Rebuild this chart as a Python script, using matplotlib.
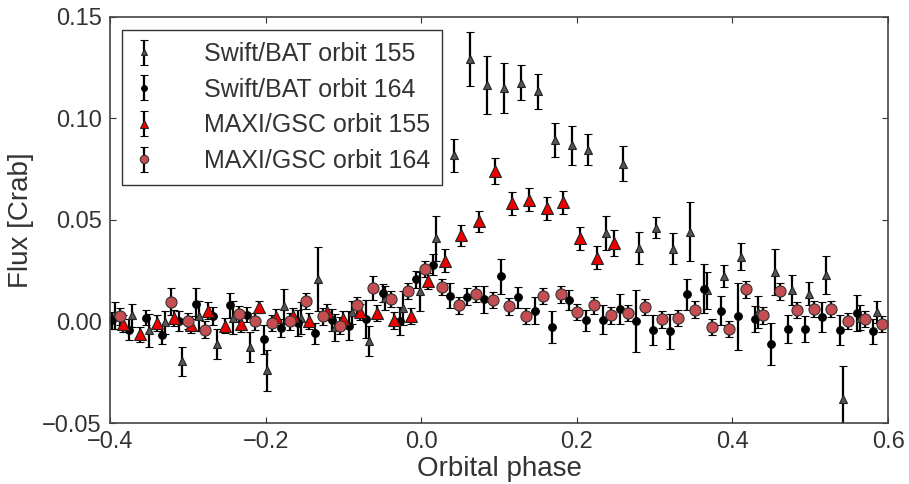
import matplotlib
matplotlib.use("Agg")
import matplotlib.pyplot as plt

plt.rcParams['font.family'] = ['Liberation Sans', 'DejaVu Sans']

# Swift/BAT orbit 155
bat155_phase = [-0.394, -0.372, -0.350, -0.329, -0.307, -0.285, -0.263, -0.2415, -0.220, -0.1982,
                -0.1763, -0.1545, -0.1326, -0.1108, -0.0894, -0.0676, -0.0462, -0.0239, -0.0019, 0.0194,
                0.0418, 0.0631, 0.0846, 0.1064, 0.1283, 0.1501, 0.172, 0.1934, 0.2148, 0.237,
                0.2589, 0.2802, 0.3022, 0.324, 0.3455, 0.3674, 0.3892, 0.411, 0.4324, 0.4548,
                0.4761, 0.498, 0.5199, 0.5416, 0.5635, 0.5853]
bat155_flux = [0.003, 0.003, -0.0044, -0.0003, -0.0195, 0.0028, -0.011, 0.0018, -0.0127, -0.0241,
               0.0074, 0.0016, 0.021, -0.0028, 0.0046, -0.0094, 0.0117, 0.0066, 0.0149, 0.041,
               0.0818, 0.1294, 0.1166, 0.115, 0.1177, 0.1133, 0.0892, 0.0867, 0.0846, 0.0437,
               0.0777, 0.0363, 0.0462, 0.0358, 0.0443, 0.0153, 0.0223, 0.032, 0.0046, 0.0243,
               0.0156, 0.0136, 0.023, -0.0381, 0.0018, 0.0046]
bat155_err = [0.0066, 0.0056, 0.0082, 0.0057, 0.0071, 0.0074, 0.0073, 0.0082, 0.0074, 0.0099,
              0.0086, 0.008, 0.0158, 0.0066, 0.0057, 0.0074, 0.006, 0.0082, 0.0097, 0.011,
              0.0082, 0.0134, 0.0144, 0.0123, 0.0085, 0.0085, 0.0084, 0.0096, 0.0076, 0.0083,
              0.0085, 0.008, 0.0053, 0.0076, 0.0147, 0.009, 0.0055, 0.0068, 0.008, 0.0112,
              0.0073, 0.0057, 0.0094, 0.0164, 0.0062, 0.0053]

# Swift/BAT orbit 164
bat164_phase = [-0.397, -0.376, -0.354, -0.333, -0.311, -0.289, -0.267, -0.2454, -0.2235, -0.202,
                -0.1802, -0.1584, -0.1365, -0.1152, -0.0933, -0.0715, -0.0491, -0.0277, -0.0063, 0.0155,
                0.0374, 0.0591, 0.081, 0.1026, 0.1244, 0.1463, 0.1686, 0.19, 0.2114, 0.2332,
                0.255, 0.2764, 0.2983, 0.3198, 0.3417, 0.3635, 0.3854, 0.4067, 0.4285, 0.4496,
                0.4719, 0.4937, 0.5155, 0.5378, 0.5597, 0.581]
bat164_flux = [0.0005, -0.004, 0.0018, -0.0066, 0.0002, 0.0087, 0.0028, 0.0079, 0.0033, -0.0087,
               -0.0033, -0.0005, -0.0058, 0.0008, -0.002, 0.0011, 0.0139, 0.0002, 0.0207, 0.0279,
               0.0128, 0.0123, 0.011, 0.0222, 0.012, 0.0054, -0.0028, 0.0107, 0.0005, 0.0008,
               0.0062, 0.0002, -0.004, -0.0048, 0.0133, 0.0161, 0.0054, 0.0026, 0.0013, -0.011,
               -0.0036, -0.0038, 0.0021, -0.0044, 0.0041, -0.0048]
bat164_err = [0.004, 0.005, 0.0037, 0.0045, 0.005, 0.0077, 0.0045, 0.0062, 0.0037, 0.0071,
              0.0045, 0.0064, 0.0053, 0.0053, 0.007, 0.0094, 0.0045, 0.007, 0.004, 0.0051,
              0.0063, 0.004, 0.0066, 0.0085, 0.0052, 0.0066, 0.0079, 0.0049, 0.0051, 0.0072,
              0.0074, 0.0152, 0.0074, 0.0086, 0.0078, 0.0121, 0.0071, 0.0164, 0.0064, 0.0103,
              0.007, 0.0064, 0.0074, 0.0074, 0.0088, 0.0062]

# MAXI/GSC orbit 155
gsc155_phase = [-0.383, -0.361, -0.340, -0.318, -0.2955, -0.274, -0.2526, -0.2313, -0.209, -0.187,
                -0.1653, -0.1439, -0.1216, -0.1002, -0.0783, -0.0568, -0.0346, -0.0127, 0.0087, 0.0301,
                0.0516, 0.0738, 0.0949, 0.1171, 0.139, 0.1613, 0.1826, 0.2041, 0.226, 0.2478]
gsc155_flux = [-0.001, -0.0064, -0.0008, 0.0018, -0.0015, 0.0054, -0.002, -0.0011, 0.0071, 0.0021,
               0.0025, 0.0002, 0.0046, 0.0013, 0.0046, 0.0041, 0.0005, 0.0026, 0.0199, 0.030,
               0.0424, 0.0493, 0.0739, 0.0583, 0.060, 0.0558, 0.0588, 0.041, 0.0314, 0.0388]
gsc155_err = [0.004, 0.0035, 0.004, 0.004, 0.004, 0.004, 0.0035, 0.004, 0.003, 0.004,
              0.004, 0.004, 0.004, 0.004, 0.004, 0.004, 0.004, 0.004, 0.004, 0.0057,
              0.005, 0.005, 0.0064, 0.0057, 0.0056, 0.0057, 0.0057, 0.0056, 0.0056, 0.0064]

# MAXI/GSC orbit 164
gsc164_phase = [-0.387, -0.322, -0.300, -0.278, -0.2346, -0.2132, -0.1914, -0.1692, -0.1477, -0.1258,
                -0.1044, -0.0825, -0.0615, -0.0385, -0.017, 0.0045, 0.0263, 0.048, 0.070, 0.0918,
                0.1129, 0.1351, 0.157, 0.1793, 0.2007, 0.2221, 0.2439, 0.2657, 0.2877, 0.309,
                0.3305, 0.3523, 0.3742, 0.396, 0.4179, 0.4393, 0.4612, 0.483, 0.5048, 0.5267,
                0.549, 0.5699, 0.5918]
gsc164_flux = [0.0025, 0.0097, 0.0002, -0.004, 0.0038, 0.0, -0.0008, 0.0, 0.0099, 0.0025,
               -0.002, 0.0079, 0.0166, 0.0112, 0.0149, 0.026, 0.0169, 0.0079, 0.0136, 0.0107,
               0.0074, 0.0028, 0.0127, 0.0133, 0.0046, 0.0079, 0.003, 0.0043, 0.007, 0.001,
               0.0018, 0.0059, -0.0028, -0.0036, 0.0158, 0.003, 0.0148, 0.0057, 0.0062, 0.0062,
               0.0002, 0.0013, -0.0011]
gsc164_err = [0.004, 0.0067, 0.004, 0.004, 0.004, 0.004, 0.004, 0.004, 0.0039, 0.004,
              0.004, 0.004, 0.006, 0.004, 0.004, 0.004, 0.004, 0.004, 0.004, 0.004,
              0.004, 0.004, 0.004, 0.004, 0.004, 0.004, 0.004, 0.004, 0.004, 0.004,
              0.004, 0.004, 0.004, 0.004, 0.004, 0.004, 0.004, 0.004, 0.004, 0.004,
              0.004, 0.004, 0.004]

x_ticks = [-0.4, -0.2, 0.0, 0.2, 0.4, 0.6]
y_ticks = [-0.05, 0.0, 0.05, 0.10, 0.15]

fig = plt.figure(figsize=(9.09, 4.84), dpi=100)
ax = fig.add_axes([0.121, 0.126, 0.856, 0.839])

common = dict(ecolor='black', elinewidth=1.6, capsize=3, capthick=1.2, linestyle='none')

ax.errorbar(bat155_phase, bat155_flux, yerr=bat155_err, fmt='^', ms=5.5,
            mfc='#555555', mec='#222222', mew=0.8, label='Swift/BAT orbit 155', **common)
ax.errorbar(bat164_phase, bat164_flux, yerr=bat164_err, fmt='o', ms=5.5,
            mfc='black', mec='black', mew=0.8, label='Swift/BAT orbit 164', **common)
ax.errorbar(gsc155_phase, gsc155_flux, yerr=gsc155_err, fmt='^', ms=8,
            mfc='#ee0000', mec='#222222', mew=0.8, label='MAXI/GSC orbit 155', **common)
ax.errorbar(gsc164_phase, gsc164_flux, yerr=gsc164_err, fmt='o', ms=8,
            mfc='#c44e52', mec='#333333', mew=0.8, label='MAXI/GSC orbit 164', **common)

ax.set_xlim(-0.4, 0.6)
ax.set_ylim(-0.05, 0.15)
ax.set_xticks(x_ticks)
ax.set_yticks(y_ticks)
ax.set_xticklabels(['\u22120.4', '\u22120.2', '0.0', '0.2', '0.4', '0.6'])
ax.set_yticklabels(['\u22120.05', '0.00', '0.05', '0.10', '0.15'])
ax.tick_params(direction='in', length=4, width=0.8, colors='#333333', labelsize=17,
               top=True, right=True, labelcolor='#333333', pad=6)
for s in ax.spines.values():
    s.set_color('#444444')
    s.set_linewidth(1.2)

ax.set_xlabel('Orbital phase', fontsize=20, color='#333333', labelpad=2)
ax.set_ylabel('Flux [Crab]', fontsize=20, color='#333333', labelpad=6)

leg = ax.legend(loc='upper left', fontsize=18, frameon=True, fancybox=False,
                edgecolor='black', borderpad=0.48, handletextpad=2.0, labelspacing=0.47,
                handlelength=0.8, markerscale=0.75, borderaxespad=0.0,
                bbox_to_anchor=(0.015, 0.968))
leg.get_frame().set_linewidth(1.0)
for t in leg.get_texts():
    t.set_color('#333333')

fig.savefig('out.png', dpi=100)
